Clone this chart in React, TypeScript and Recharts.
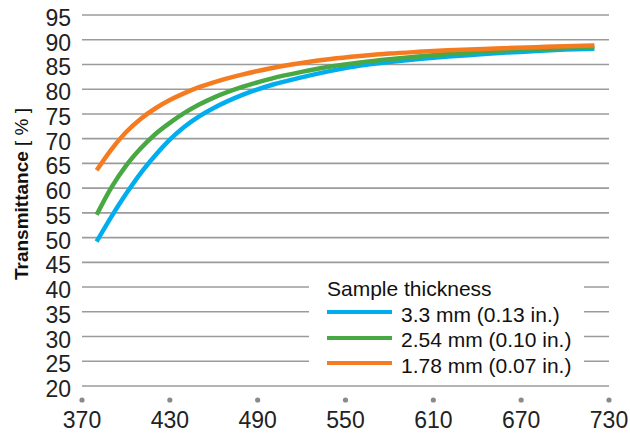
import { CartesianGrid, Legend, Line, LineChart, XAxis, YAxis } from "recharts";

// wavelength in nm
const wavelengths = [
  380, 390, 400, 410, 420, 430, 440, 450, 460, 480, 500, 520, 540, 560, 580,
  600, 620, 640, 660, 680, 700, 720,
];

// transmittance in %
const thick330 = [
  49.2, 54.2, 58.8, 63.0, 66.6, 69.8, 72.4, 74.5, 76.2, 78.9, 80.9, 82.4,
  83.7, 84.8, 85.5, 86.1, 86.6, 87.0, 87.4, 87.7, 88.0, 88.2,
];
const thick254 = [
  54.6, 60.1, 64.5, 68.0, 70.9, 73.2, 75.2, 76.9, 78.3, 80.5, 82.2, 83.5,
  84.6, 85.4, 86.05, 86.6, 87.1, 87.5, 87.85, 88.1, 88.35, 88.55,
];
const thick178 = [
  63.6, 67.8, 71.3, 74.0, 76.1, 77.8, 79.2, 80.4, 81.4, 83.0, 84.3, 85.3,
  86.1, 86.7, 87.2, 87.55, 87.85, 88.1, 88.3, 88.5, 88.7, 88.85,
];

const xTicks = [370, 430, 490, 550, 610, 670, 730];
const yTicks = [20, 25, 30, 35, 40, 45, 50, 55, 60, 65, 70, 75, 80, 85, 90, 95];

const series = [
  { key: "t330", label: "3.3 mm (0.13 in.)", color: "#00AEEF" },
  { key: "t254", label: "2.54 mm (0.10 in.)", color: "#48A843" },
  { key: "t178", label: "1.78 mm (0.07 in.)", color: "#F47B20" },
];

const data = wavelengths.map((w, i) => ({
  w,
  t330: thick330[i],
  t254: thick254[i],
  t178: thick178[i],
}));

const FONT = "'Liberation Sans', Arial, Helvetica, sans-serif";

function XTick({ x, y, payload }: any) {
  return (
    <g>
      <circle cx={x} cy={y + 14} r={2.6} fill="#8a8a8a" />
      <text
        x={x}
        y={y + 41.5}
        textAnchor="middle"
        fontSize={23}
        fontFamily={FONT}
        fill="#222"
      >
        {payload.value}
      </text>
    </g>
  );
}

function YTick({ x, y, payload }: any) {
  return (
    <text
      x={x}
      y={y + 11}
      textAnchor="end"
      fontSize={23}
      fontFamily={FONT}
      fill="#222"
    >
      {payload.value}
    </text>
  );
}

function YLabel() {
  return (
    <text
      transform="translate(27.5, 194) rotate(-90)"
      textAnchor="middle"
      fontSize={19}
      fontFamily={FONT}
      fill="#111"
    >
      <tspan fontWeight="bold">Transmittance</tspan>
      <tspan> [ % ]</tspan>
    </text>
  );
}

function LegendBox() {
  return (
    <div
      style={{
        background: "#fff",
        width: 275,
        height: 110,
        boxSizing: "border-box",
        padding: "6px 0 0 18px",
        fontFamily: FONT,
        fontSize: 21,
        lineHeight: "25.5px",
        color: "#111",
      }}
    >
      <div>Sample thickness</div>
      {series.map((s) => (
        <div key={s.key} style={{ display: "flex", alignItems: "flex-start" }}>
          <span
            style={{
              display: "inline-block",
              width: 65,
              height: 4,
              marginTop: 8.5,
              marginRight: 9,
              background: s.color,
            }}
          />
          <span>{s.label}</span>
        </div>
      ))}
    </div>
  );
}

export default function App() {
  return (
    <div style={{ position: "fixed", left: 0, top: 0, background: "#fff" }}>
      <LineChart
        width={630}
        height={434}
        data={data}
        margin={{ top: 15, right: 21, bottom: 0, left: 0 }}
      >
        <CartesianGrid vertical={false} stroke="#9b9b9b" strokeWidth={1.6} />
        <XAxis
          dataKey="w"
          type="number"
          domain={[370, 730]}
          ticks={xTicks}
          axisLine={false}
          tickLine={false}
          tickSize={0}
          tickMargin={0}
          height={48}
          tick={<XTick />}
          interval={0}
        />
        <YAxis
          type="number"
          domain={[20, 95]}
          ticks={yTicks}
          axisLine={false}
          tickLine={false}
          tickSize={0}
          tickMargin={11}
          width={82}
          tick={<YTick />}
          interval={0}
          label={{ content: () => <YLabel /> }}
        />
        <Legend
          layout="horizontal"
          verticalAlign="middle"
          align="center"
          wrapperStyle={{ left: 309, top: 270, width: 275, height: 110 }}
          content={() => <LegendBox />}
        />
        {series.map((s) => (
          <Line
            key={s.key}
            type="monotone"
            dataKey={s.key}
            stroke={s.color}
            strokeWidth={4.5}
            dot={false}
            activeDot={false}
            isAnimationActive={false}
          />
        ))}
      </LineChart>
    </div>
  );
}
